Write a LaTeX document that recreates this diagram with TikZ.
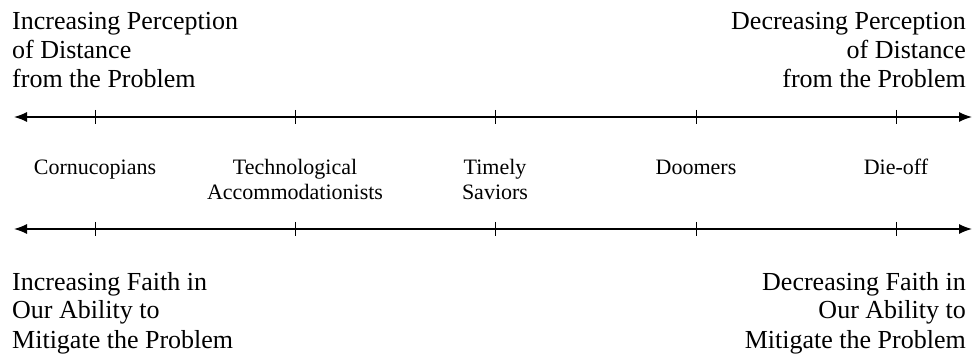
\documentclass[tikz,border=0pt]{standalone}
\usepackage{fontspec}
\usepackage{tikz}
\setmainfont{Liberation Serif}
\usetikzlibrary{arrows.meta}

\begin{document}
\begin{tikzpicture}[x=1pt, y=-1pt,
    axis/.style={line width=1.4pt, {Latex[length=13pt,width=10pt]}-{Latex[length=13pt,width=10pt]}},
    corner/.style={font=\fontsize{26}{29}\selectfont, inner sep=0pt},
    camp/.style={font=\fontsize{22}{25}\selectfont, align=center, anchor=base, inner sep=0pt}]
    \useasboundingbox (0,0) rectangle (975,358);

    % Label: perception of distance, above the top line (base = last line)
    \node[corner, anchor=base west, align=left] (percL) at (12,88)
        {Increasing Perception\\of Distance\\from the Problem};
    \node[corner, anchor=base east, align=right] (percR) at (966,88)
        {Decreasing Perception\\of Distance\\from the Problem};

    % the two scales
    \coordinate (topL) at (14,117);
    \coordinate (topR) at (972,117);
    \coordinate (botL) at (14,229);
    \coordinate (botR) at (972,229);
    \draw[axis] (topL) -- (topR);
    \draw[axis] (botL) -- (botR);

    % ticks and camps between the lines
    \foreach \x/\y/\lbl [count=\n] in {
      95/175/Cornucopians,
      295/200/{Technological\\Accommodationists},
      495/200/{Timely\\Saviors},
      696/175/Doomers,
      896/175/Die-off} {
        \draw[line width=1pt] (\x,110) -- (\x,124);
        \draw[line width=1pt] (\x,222) -- (\x,236);
        \node[camp] (camp\n) at (\x,\y) {\lbl};
      }

    % Label: faith in mitigation, below the bottom line
    \node[corner, anchor=base west, align=left] (faithL) at (12,348)
        {Increasing Faith in\\Our Ability to\\Mitigate the Problem};
    \node[corner, anchor=base east, align=right] (faithR) at (966,348)
        {Decreasing Faith in\\Our Ability to\\Mitigate the Problem};
\end{tikzpicture}
\end{document}
